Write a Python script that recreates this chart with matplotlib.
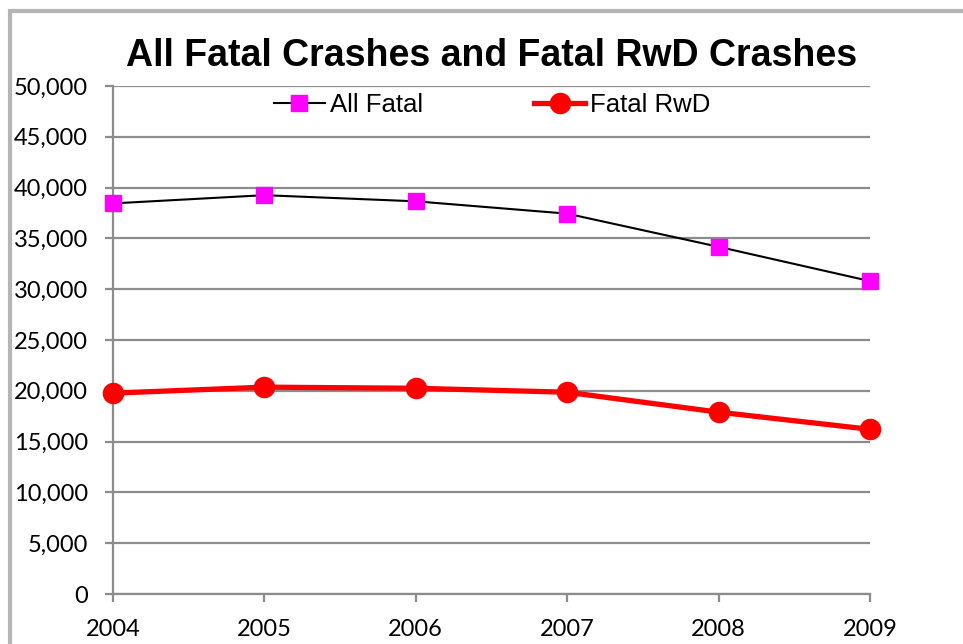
import matplotlib.pyplot as plt
from matplotlib.patches import Rectangle
from matplotlib.ticker import FuncFormatter

years = ['2004', '2005', '2006', '2007', '2008', '2009']
all_fatal = [38444, 39252, 38648, 37435, 34172, 30797]
fatal_rwd = [19770, 20360, 20250, 19860, 17900, 16210]

fig = plt.figure(figsize=(9.63, 6.44), dpi=100)
ax = fig.add_axes([0.1173, 0.0776, 0.7861, 0.7889])

x = range(len(years))
ax.plot(x, all_fatal, color='black', lw=1.5, marker='s', ms=11,
        mfc='#ff00ff', mec='#ff00ff', label='All Fatal', clip_on=False, zorder=3)
ax.plot(x, fatal_rwd, color='red', lw=3.8, marker='o', ms=14.5,
        mfc='red', mec='red', label='Fatal RwD', clip_on=False, zorder=3)

ax.set_xlim(0, len(years) - 1)
ax.set_ylim(0, 50000)
ax.set_yticks(range(0, 50001, 5000))
ax.yaxis.set_major_formatter(FuncFormatter(lambda v, p: f'{int(v):,}'))
ax.set_xticks(list(x))
ax.set_xticklabels(years)
ax.grid(axis='y', color='#8c8c8c', lw=1.6)
ax.set_axisbelow(True)

for s in ['top', 'right']:
    ax.spines[s].set_visible(False)
for s in ['left', 'bottom']:
    ax.spines[s].set_color('#8c8c8c')
    ax.spines[s].set_linewidth(1.6)
ax.tick_params(axis='both', direction='out', length=6, width=1.6, color='#8c8c8c',
               labelsize=17)
ax.tick_params(axis='y', pad=12)
ax.tick_params(axis='x', pad=12)
for t in ax.get_xticklabels() + ax.get_yticklabels():
    t.set_fontfamily('Lato')

fig.text(0.5104, 0.913, 'All Fatal Crashes and Fatal RwD Crashes', ha='center', va='center',
         fontsize=27, fontweight='bold', family='Liberation Sans')

ax.legend(loc='center', bbox_to_anchor=(0.501, 0.963), ncol=2, frameon=False,
          prop={'family': 'Liberation Sans', 'size': 18.5}, handlelength=2.0,
          columnspacing=4.3, handletextpad=0.2, numpoints=1,
          borderpad=0, borderaxespad=0)

fig.patches.append(Rectangle((10 / 963, -0.1), 1.2, 0.1 + (644 - 11) / 644,
                             transform=fig.transFigure, fill=False,
                             edgecolor='#b5b5b5', lw=3))

fig.savefig('out.png', dpi=100)
